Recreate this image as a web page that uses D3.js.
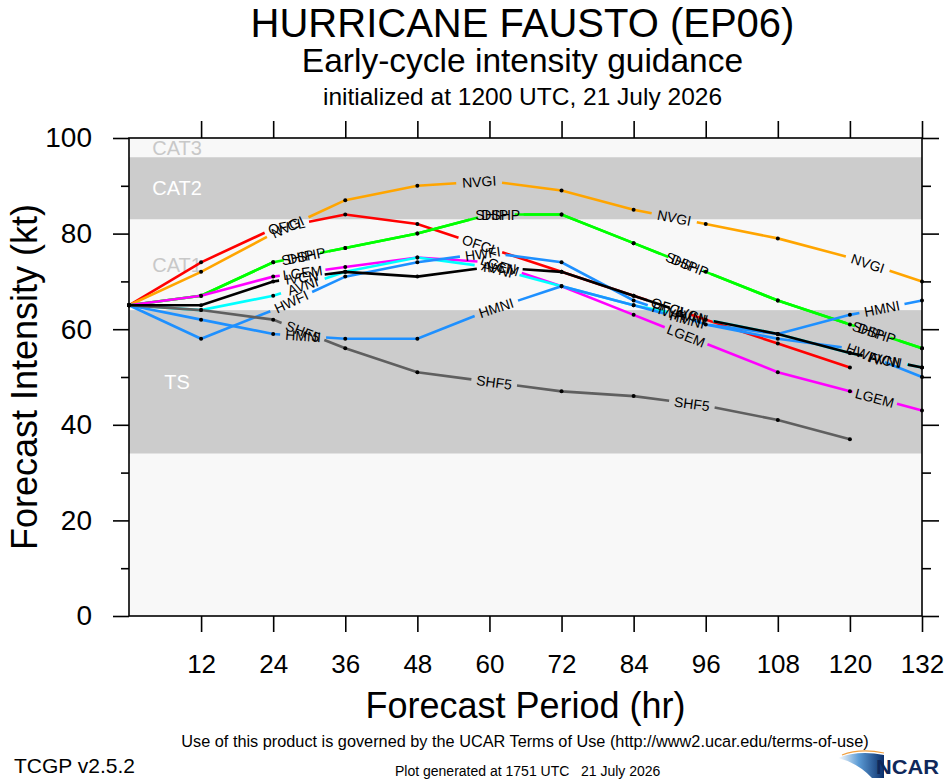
<!DOCTYPE html>
<html>
<head>
<meta charset="utf-8">
<script src="https://cdn.jsdelivr.net/npm/d3@7/dist/d3.min.js"></script>
<style>
body { margin: 0; background: #fff; }
text { font-family: "Liberation Sans", Arial, Helvetica, sans-serif; }
</style>
</head>
<body>
<div id="chart"></div>
<script>
var width = 946, height = 780;
var plot = {left: 129, right: 922, top: 138, bottom: 616};

// forecast hours and ticks
var hours = [0, 12, 24, 36, 48, 60, 72, 84, 96, 108, 120, 132];
var xTicks = [12, 24, 36, 48, 60, 72, 84, 96, 108, 120, 132];
var yTicks = [0, 20, 40, 60, 80, 100];
var yMinor = [10, 30, 50, 70, 90];

// intensity bands (kt)
var bandNames = ["TS", "CAT1", "CAT2", "CAT3"];
var bandLow = [34, 64, 83, 96];
var bandHigh = [64, 83, 96, 113];

// model guidance (kt), drawn bottom to top
var models = ["OFCL", "NVGI", "SHIP", "DSHP", "LGEM", "AVNI", "HWFI", "HMNI", "SHF5", "IVCN"];
var modelColors = ["#ff0000", "#ffa500", "#00ff00", "#00ff00", "#ff00ff", "#00ffff", "#1e90ff", "#1e90ff", "#5f5f5f", "#000000"];
var ofcl = [65, 74, 81, 84, 82, 77, 72, 67, 62, 57, 52];
var nvgi = [65, 72, 80, 87, 90, 91, 89, 85, 82, 79, 75, 70];
var ship = [65, 67, 74, 77, 80, 84, 84, 78, 72, 66, 61, 56];
var dshp = [65, 67, 74, 77, 80, 84, 84, 78, 72, 66, 61, 56];
var lgem = [65, 67, 71, 73, 75, 74, 69, 63, 57, 51, 47, 43];
var avni = [65, 64, 67, 72, 75, 73, 69, 65, 62, 59, 55, 52];
var hwfi = [65, 58, 64, 71, 74, 76, 74, 66, 61, 58, 56, 50];
var hmni = [65, 62, 59, 58, 58, 64, 69, 65, 61, 59, 63, 66];
var shf5 = [65, 64, 62, 56, 51, 49, 47, 46, 44, 41, 37];
var ivcn = [65, 65, 70, 72, 71, 73, 72, 67, 62, 59, 55, 52];
var modelValues = [ofcl, nvgi, ship, dshp, lgem, avni, hwfi, hmni, shf5, ivcn];

// line label placement along the path (px of arc length)
var labelStart = 177, labelStep = 199, labelGap = 46;
var labelShift = {DSHP: 9};

var svg = d3.select("#chart")
  .append("svg")
  .attr("width", width)
  .attr("height", height);

var x = d3.scaleLinear().domain([0, 132]).range([plot.left, plot.right]);
var y = d3.scaleLinear().domain([0, 100]).range([plot.bottom, plot.top]);

drawBackground();
drawLines();
drawAxes();
drawTitles();
drawLogo();

function drawBackground()
{
  svg.append("rect")
    .attr("x", plot.left).attr("y", plot.top)
    .attr("width", plot.right - plot.left)
    .attr("height", plot.bottom - plot.top)
    .attr("fill", "#f8f8f8");

  bandNames.forEach(function(name, i) {
    var hi = Math.min(bandHigh[i], 100);
    var dark = (i % 2 == 0);
    svg.append("rect")
      .attr("x", plot.left)
      .attr("y", y(hi))
      .attr("width", plot.right - plot.left)
      .attr("height", y(bandLow[i]) - y(hi))
      .attr("fill", dark ? "#cccccc" : "#f8f8f8");
    svg.append("text")
      .text(name)
      .attr("x", x(8))
      .attr("y", (y(hi) + y(bandLow[i])) / 2)
      .attr("dy", "0.36em")
      .attr("text-anchor", "middle")
      .attr("font-size", "20px")
      .attr("fill", dark ? "#ffffff" : "#c8c8c8");
  });
}

function drawLines()
{
  var labelLayer = [];
  models.forEach(function(name, m) {
    var vals = modelValues[m];
    var pts = vals.map(function(v, i) { return [x(hours[i]), y(v)]; });
    var cum = [0];
    for (var i = 1; i < pts.length; i++) {
      cum.push(cum[i - 1] + Math.hypot(pts[i][0] - pts[i - 1][0], pts[i][1] - pts[i - 1][1]));
    }
    var total = cum[cum.length - 1];

    var labels = [];
    var s0 = labelStart + (labelShift[name] || 0);
    for (var s = s0; s + labelGap / 2 < total; s += labelStep) {
      var k = 1;
      while (cum[k] < s) k++;
      var t = (s - cum[k - 1]) / (cum[k] - cum[k - 1]);
      var dx = pts[k][0] - pts[k - 1][0], dy = pts[k][1] - pts[k - 1][1];
      labels.push({
        s: s,
        x: pts[k - 1][0] + t * dx,
        y: pts[k - 1][1] + t * dy,
        angle: Math.atan2(dy, dx) * 180 / Math.PI
      });
    }

    var dash = [], prev = 0;
    labels.forEach(function(l) {
      dash.push(l.s - labelGap / 2 - prev, labelGap);
      prev = l.s + labelGap / 2;
    });
    dash.push(total, total);

    svg.append("path")
      .attr("d", d3.line()(pts))
      .attr("fill", "none")
      .attr("stroke", modelColors[m])
      .attr("stroke-width", 2.6)
      .attr("stroke-dasharray", dash.join(","));

    svg.selectAll(null)
      .data(pts.filter(function(p, i) {
        return !labels.some(function(l) { return Math.abs(cum[i] - l.s) < labelGap / 2; });
      }))
      .enter()
      .append("circle")
      .attr("cx", function(d) { return d[0]; })
      .attr("cy", function(d) { return d[1]; })
      .attr("r", 2)
      .attr("fill", "#000");

    labels.forEach(function(l) { l.name = name; labelLayer.push(l); });
  });

  svg.selectAll(".linelabel")
    .data(labelLayer)
    .enter()
    .append("text")
    .attr("class", "linelabel")
    .text(function(d) { return d.name; })
    .attr("transform", function(d) { return "translate(" + d.x + "," + d.y + ") rotate(" + d.angle + ")"; })
    .attr("dy", "0.36em")
    .attr("text-anchor", "middle")
    .attr("font-size", "14px")
    .attr("fill", "#000");
}

function styleAxis(g, size)
{
  g.attr("font-family", "Liberation Sans, Arial, sans-serif")
    .attr("font-size", size);
  g.select(".domain").remove();
  g.selectAll(".tick line").attr("stroke", "#000").attr("stroke-width", 1.6);
  g.selectAll(".tick text").attr("fill", "#000");
}

function drawAxes()
{
  svg.append("g")
    .attr("transform", "translate(" + plot.left + ",0)")
    .call(d3.axisLeft(y).tickValues(yTicks).tickSize(16).tickPadding(21))
    .call(styleAxis, "28px");
  svg.append("g")
    .attr("transform", "translate(" + plot.left + ",0)")
    .call(d3.axisLeft(y).tickValues(yMinor).tickSize(8).tickFormat(""))
    .call(styleAxis, "10px");
  svg.append("g")
    .attr("transform", "translate(" + plot.right + ",0)")
    .call(d3.axisRight(y).tickValues(yTicks).tickSize(17).tickFormat(""))
    .call(styleAxis, "10px");
  svg.append("g")
    .attr("transform", "translate(" + plot.right + ",0)")
    .call(d3.axisRight(y).tickValues(yMinor).tickSize(9).tickFormat(""))
    .call(styleAxis, "10px");
  svg.append("g")
    .attr("transform", "translate(0," + plot.bottom + ")")
    .call(d3.axisBottom(x).tickValues(xTicks).tickSize(16).tickPadding(23))
    .call(styleAxis, "26px");
  svg.append("g")
    .attr("transform", "translate(0," + plot.top + ")")
    .call(d3.axisTop(x).tickValues(xTicks).tickSize(17).tickFormat(""))
    .call(styleAxis, "10px");

  svg.append("rect")
    .attr("x", plot.left).attr("y", plot.top)
    .attr("width", plot.right - plot.left)
    .attr("height", plot.bottom - plot.top)
    .attr("fill", "none")
    .attr("stroke", "#000")
    .attr("stroke-width", 1.6);
}

function drawTitles()
{
  var cx = (plot.left + plot.right) / 2;
  svg.append("text").text("HURRICANE FAUSTO (EP06)")
    .attr("x", cx - 3).attr("y", 37)
    .attr("text-anchor", "middle").attr("font-size", "40px");
  svg.append("text").text("Early-cycle intensity guidance")
    .attr("x", cx - 3).attr("y", 72)
    .attr("text-anchor", "middle").attr("font-size", "33.5px");
  svg.append("text").text("initialized at 1200 UTC, 21 July 2026")
    .attr("x", cx - 3).attr("y", 105)
    .attr("text-anchor", "middle").attr("font-size", "24.5px");

  svg.append("text").text("Forecast Intensity (kt)")
    .attr("transform", "translate(37," + ((plot.top + plot.bottom) / 2) + ") rotate(-90)")
    .attr("text-anchor", "middle").attr("font-size", "36px");
  svg.append("text").text("Forecast Period (hr)")
    .attr("x", cx).attr("y", 718)
    .attr("text-anchor", "middle").attr("font-size", "36px");

  svg.append("text").text("Use of this product is governed by the UCAR Terms of Use (http://www2.ucar.edu/terms-of-use)")
    .attr("x", 525).attr("y", 747)
    .attr("text-anchor", "middle").attr("font-size", "16.3px");
  svg.append("text").text("TCGP v2.5.2")
    .attr("x", 14).attr("y", 773)
    .attr("font-size", "21px");
  svg.append("text").text("Plot generated at 1751 UTC\u00a0\u00a0\u00a021 July 2026")
    .attr("x", 395).attr("y", 776)
    .attr("font-size", "14px");
}

function drawLogo()
{
  var grad = svg.append("defs").append("linearGradient")
    .attr("id", "ncarGrad")
    .attr("x1", "0%").attr("x2", "100%").attr("y1", "0%").attr("y2", "0%");
  grad.append("stop").attr("offset", "0%").attr("stop-color", "#ffffff");
  grad.append("stop").attr("offset", "45%").attr("stop-color", "#5b9bd5");
  grad.append("stop").attr("offset", "100%").attr("stop-color", "#0b2f6b");

  svg.append("path")
    .attr("d", "M838,758 Q858,750 884,755 L884,778 L872,778 Q858,763 838,758 Z")
    .attr("fill", "url(#ncarGrad)");
  svg.append("path")
    .attr("d", "M842,755 Q860,748 884,753")
    .attr("fill", "none")
    .attr("stroke", "#f0a040")
    .attr("stroke-width", 1.2);
  svg.append("text").text("NCAR")
    .attr("x", 876).attr("y", 774)
    .attr("font-size", "21px")
    .attr("font-weight", "bold")
    .attr("fill", "#10285a")
    .attr("textLength", 63)
    .attr("lengthAdjust", "spacingAndGlyphs");
}
</script>
</body>
</html>
